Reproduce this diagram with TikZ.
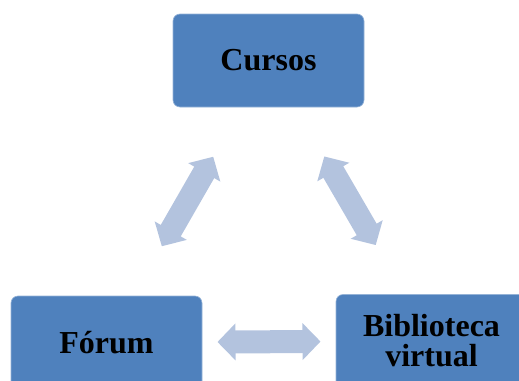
\documentclass[tikz,border=0pt]{standalone}
\usepackage{fontspec}
\setmainfont{Liberation Serif}
\usepackage{tikz}
\usetikzlibrary{positioning, shapes, arrows.meta, calc}

\begin{document}
\begin{tikzpicture}[x=1pt, y=-1pt, >=latex]
    \definecolor{boxblue}{RGB}{79, 129, 189} \definecolor{arrblue}{RGB}{179, 195, 222}
    \tikzset{
        box/.style={rectangle, rounded corners=7pt, fill=boxblue, draw=boxblue!60!white, line width=0.6pt,
                    minimum width=191pt, minimum height=93pt, align=center, inner sep=2pt,
                    font=\bfseries\fontsize{32}{30}\selectfont},
        dbl/.style={arrblue, line width=23pt, {Triangle[length=18pt, width=36pt]}-{Triangle[length=18pt, width=36pt]},
                    shorten <=111pt, shorten >=111pt}
    }
    \useasboundingbox (0,0) rectangle (519,380);
    \clip (0,0) rectangle (519,380);

    \node[box] (cur) at (268.5, 60.5) {Cursos};
    \node[box] (for) at (106.5, 342.5) {Fórum};
    \node[box] (bib) at (431.5, 341) {Biblioteca\\virtual};

    \draw[dbl] (cur.center) -- (for.center);
    \draw[dbl] (cur.center) -- (bib.center);
    \draw[dbl] (for.center) -- (bib.center);
\end{tikzpicture}
\end{document}
